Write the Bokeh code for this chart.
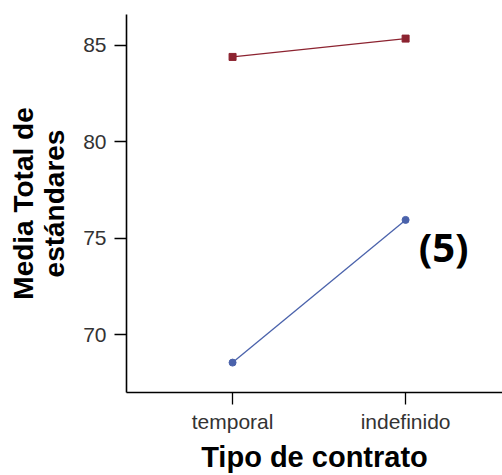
from bokeh.plotting import figure
from bokeh.models import FixedTicker, Label, Range1d
from bokeh.embed import file_html
from bokeh.resources import INLINE

categories = ["temporal", "indefinido"]
x_idx = [0, 1]
serie_roja = [84.4, 85.35]
serie_azul = [68.55, 75.95]
y_ticks = [70, 75, 80, 85]

p = figure(width=502, height=475, output_backend="svg", toolbar_location=None,
           x_range=Range1d(-0.613, 1.56), y_range=Range1d(67.0, 86.6),
           min_border_left=126, min_border_right=0, min_border_top=14, min_border_bottom=82)
p.outline_line_color = None
p.xgrid.visible = False
p.ygrid.visible = False
p.background_fill_color = "white"
p.border_fill_color = "white"

red = "#8c2330"
blue = "#4a62ab"
p.line(x_idx, serie_roja, line_color=red, line_width=1.3)
p.scatter(x_idx, serie_roja, marker="square", size=7, color=red)
p.line(x_idx, serie_azul, line_color=blue, line_width=1.3)
p.scatter(x_idx, serie_azul, marker="circle", size=7, color=blue)

font = "Liberation Sans"
for ax in (p.xaxis, p.yaxis):
    ax.axis_line_color = "black"
    ax.axis_line_width = 1.6
    ax.major_tick_line_color = "black"
    ax.major_tick_line_width = 1.3
    ax.major_tick_out = 12
    ax.major_tick_in = 0
    ax.minor_tick_line_color = None
    ax.major_label_text_font = font
    ax.major_label_text_font_size = "21px"
    ax.major_label_text_color = "#333333"
    ax.axis_label_text_font = font
    ax.axis_label_text_font_style = "bold"
    ax.axis_label_text_color = "black"

p.xaxis.ticker = FixedTicker(ticks=x_idx)
p.xaxis.major_label_overrides = {i: c for i, c in zip(x_idx, categories)}
p.xaxis.major_label_standoff = 5
p.xaxis.axis_label = "Tipo de contrato"
p.xaxis.axis_label_text_font_size = "29px"
p.xaxis.axis_label_standoff = 5

p.yaxis.ticker = FixedTicker(ticks=y_ticks)
p.yaxis.major_label_standoff = 8
p.yaxis.axis_label = "Media Total de\nestándares"
p.yaxis.axis_label_text_font_size = "28px"
p.yaxis.axis_label_standoff = 10
p.yaxis.axis_label_text_line_height = 1.0

lab = Label(x=1.0756, y=74.55, text="(5)", text_font="Open Sans", text_font_style="bold",
            text_font_size="40px", text_color="black", text_baseline="alphabetic")
p.add_layout(lab)

open("out.html", "w").write(file_html(p, INLINE))
